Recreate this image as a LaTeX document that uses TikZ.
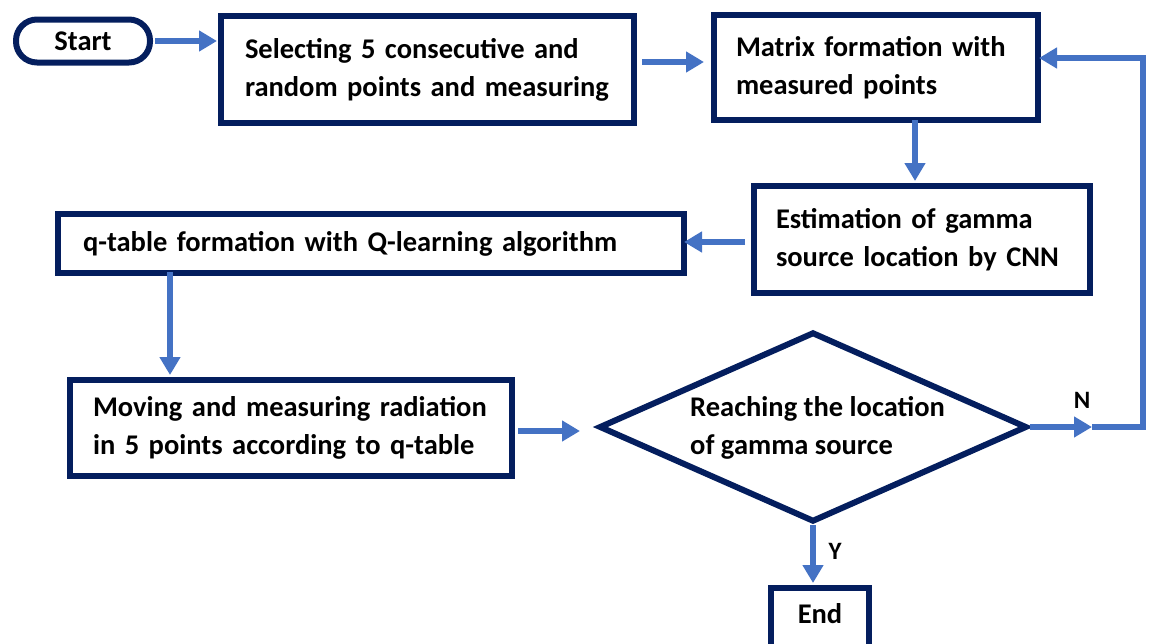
\documentclass[tikz,border=0pt]{standalone}
\usepackage{fontspec}
\setmainfont{Carlito}
\usetikzlibrary{shapes.geometric,arrows.meta}
\definecolor{navy}{RGB}{4,30,94}
\definecolor{arrblue}{RGB}{68,114,196}
\tikzset{
  box/.style={draw=navy, line width=6pt, rectangle, align=left, anchor=north west,
    inner ysep=0pt, font=\fontsize{28.5}{38}\selectfont\bfseries},
  conn/.style={draw=arrblue, line width=5.5pt},
  arr/.style={conn, -{Triangle[length=18pt,width=20pt]}},
  lbl/.style={font=\fontsize{25}{28}\selectfont\bfseries, inner sep=0pt}
}
\begin{document}
\begin{tikzpicture}[x=1pt,y=-1pt]
\useasboundingbox (0,0) rectangle (1149,643);
% nodes
\node[draw=navy, line width=6pt, rounded corners=21pt, minimum width=134pt, minimum height=43pt,
  font=\fontsize{28.5}{30}\selectfont\bfseries] (start) at (83,41) {Start};
\node[box, minimum width=413pt, minimum height=107pt, text width=365pt, inner xsep=24pt] (b1) at (218,13)
  {Selecting 5 consecutive and\\random points and measuring};
\node[box, minimum width=324pt, minimum height=105pt, text width=280pt, inner xsep=22pt] (b2) at (711,12)
  {Matrix formation with\\measured points};
\node[box, minimum width=336pt, minimum height=107pt, text width=292pt, inner xsep=22pt] (b3) at (751,183)
  {Estimation of gamma\\source location by CNN};
\node[box, minimum width=626pt, minimum height=59pt, text width=576pt, inner xsep=25pt] (b4) at (55,211)
  {q-table formation with Q-learning algorithm};
\node[box, minimum width=442pt, minimum height=96pt, text width=396pt, inner xsep=23pt] (b5) at (67,377)
  {Moving and measuring radiation\\in 5 points according to q-table};
\node[draw=navy, line width=6pt, diamond, minimum width=428pt, minimum height=190pt, inner sep=0pt] (dia) at (813,427) {};
\node[align=left, anchor=west, inner sep=0pt, font=\fontsize{28.5}{38}\selectfont\bfseries] (diatext) at (690,428)
  {Reaching the location\\of gamma source};
\node[draw=navy, line width=6pt, minimum width=98pt, minimum height=75pt, anchor=north] (end) at (820,585) {};
\node[font=\fontsize{28.5}{30}\selectfont\bfseries, inner sep=0pt] (endtext) at (820,614) {End};
% coordinates
\coordinate (a1s) at (155,41);
\coordinate (a1e) at (217,41);
\coordinate (a2s) at (642,62);
\coordinate (a2e) at (704,62);
\coordinate (a3s) at (915,120);
\coordinate (a3e) at (915,181);
\coordinate (a4s) at (745,242);
\coordinate (a4e) at (684,242);
\coordinate (a5s) at (170,272);
\coordinate (a5e) at (170,375);
\coordinate (a6s) at (518,431);
\coordinate (a6e) at (580,431);
\coordinate (nmid) at (1092,427);
\coordinate (ncorner) at (1143,427);
\coordinate (ntop) at (1143,58);
\coordinate (nturn) at (1100,58);
\coordinate (nend) at (1039,58);
\coordinate (ye) at (813,583);
% connectors
\draw[arr] (a1s) -- (a1e);
\draw[arr] (a2s) -- (a2e);
\draw[arr] (a3s) -- (a3e);
\draw[arr] (a4s) -- (a4e);
\draw[arr] (a5s) -- (a5e);
\draw[arr] (a6s) -- (a6e);
\draw[conn, line join=miter] (nmid) -- (ncorner) -- (ntop) -- (nturn);
\draw[arr] (dia.east) -- (nmid);
\draw[arr] (nturn) -- (nend);
\draw[arr] (dia.south) -- (ye);
% labels
\node[lbl] (nlab) at (1082,400) {N};
\node[lbl] (ylab) at (835,551) {Y};
\end{tikzpicture}
\end{document}
